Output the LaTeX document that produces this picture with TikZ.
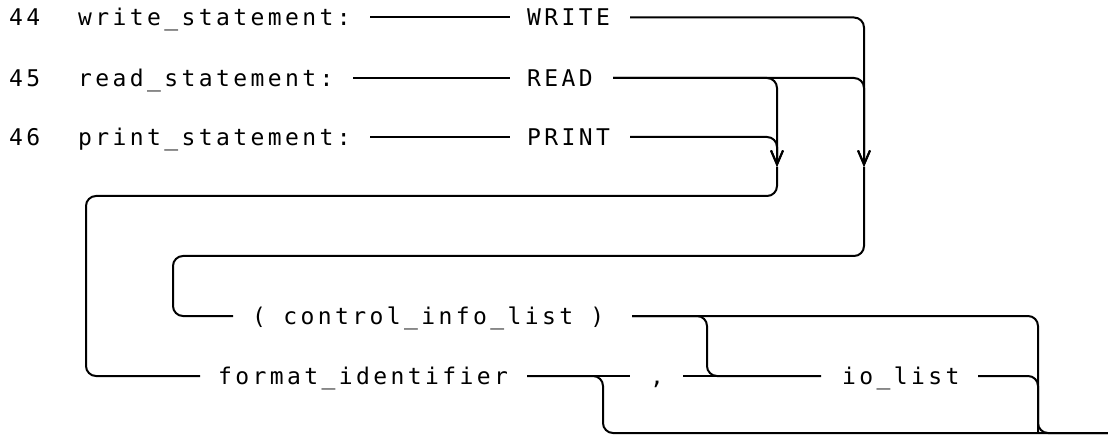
\documentclass[tikz,border=0pt]{standalone}
\usepackage{fontspec}
\newfontfamily\plotfont{DejaVu Sans Mono}[LetterSpace=14.8]
\usetikzlibrary{arrows.meta}
\begin{document}
\begin{tikzpicture}[x=1pt,y=-1pt,
  conn/.style={line width=2pt, rounded corners=10pt},
  arr/.style={-{Straight Barb[length=14pt,width=12pt]}},
  txt/.style={inner sep=0pt, anchor=base west, font=\plotfont\fontsize{23}{26}\selectfont},
  ctxt/.style={txt, anchor=base}]
\useasboundingbox (0,0) rectangle (1108,438);
% rows
\def\ra{17.5}\def\rb{78}\def\rc{137}
\def\rd{196}\def\re{256}\def\rf{316}\def\rg{376}\def\rh{433}
% texts
\node[txt] (n44) at (9,\ra+8.5) {44};
\node[txt] (n45) at (9,\rb+8.5) {45};
\node[txt] (n46) at (9,\rc+8.5) {46};
\node[txt] (wname) at (78,\ra+8.5) {write\_statement:};
\node[txt] (rname) at (78,\rb+8.5) {read\_statement:};
\node[txt] (pname) at (78,\rc+8.5) {print\_statement:};
\node[txt] (kw) at (527,\ra+8.5) {WRITE};
\node[txt] (kr) at (527,\rb+8.5) {READ};
\node[txt] (kp) at (527,\rc+8.5) {PRINT};
\node[txt] (cil) at (252,\rf+8.5) {( control\_info\_list )};
\node[txt] (fid) at (218,\rg+8.5) {format\_identifier};
\node[ctxt] (comma) at (657,\rg+8.5) {,};
\node[txt] (iol) at (842,\rg+8.5) {io\_list};
% coordinates
\coordinate (w0) at (370,\ra); \coordinate (w1) at (510,\ra); \coordinate (w2) at (630,\ra);
\coordinate (r0) at (353,\rb); \coordinate (r1) at (510,\rb); \coordinate (r2) at (613,\rb);
\coordinate (p0) at (370,\rc); \coordinate (p1) at (510,\rc); \coordinate (p2) at (630,\rc);
\coordinate (a1) at (777,167); \coordinate (a2) at (864,167);
\coordinate (bigL) at (86,\rd); \coordinate (innL) at (173,\re);
\coordinate (c0) at (233,\rf); \coordinate (c1) at (632,\rf);
\coordinate (f0) at (200,\rg); \coordinate (f1) at (527,\rg);
\coordinate (k0) at (630,\rg); \coordinate (k1) at (683,\rg);
\coordinate (io0) at (821,\rg); \coordinate (io1) at (978,\rg);
\coordinate (brA) at (603,\rh); \coordinate (brB) at (707,\rg);
\coordinate (brC) at (1038,\rh); \coordinate (out) at (1108,\rh);
% connectors
\draw[conn] (w0) -- (w1);
\draw[conn] (r0) -- (r1);
\draw[conn] (p0) -- (p1);
\draw[conn,arr] (w2) -| (a2);
\draw[conn,arr] (r2) -| (a2);
\draw[conn,arr] (r2) -| (a1);
\draw[conn,arr] (p2) -| (a1);
\draw[conn] (a1) |- (bigL) |- (f0);
\draw[conn] (a2) |- (innL) |- (c0);
\draw[conn] (c1) -| (brC) -- (out);
\draw[conn] (c1) -| (brB) -- (io0);
\draw[conn] (f1) -- (k0);
\draw[conn] (f1) -| (brA) -- (out);
\draw[conn] (k1) -- (io0);
\draw[conn] (io1) -| (brC);
\end{tikzpicture}
\end{document}
